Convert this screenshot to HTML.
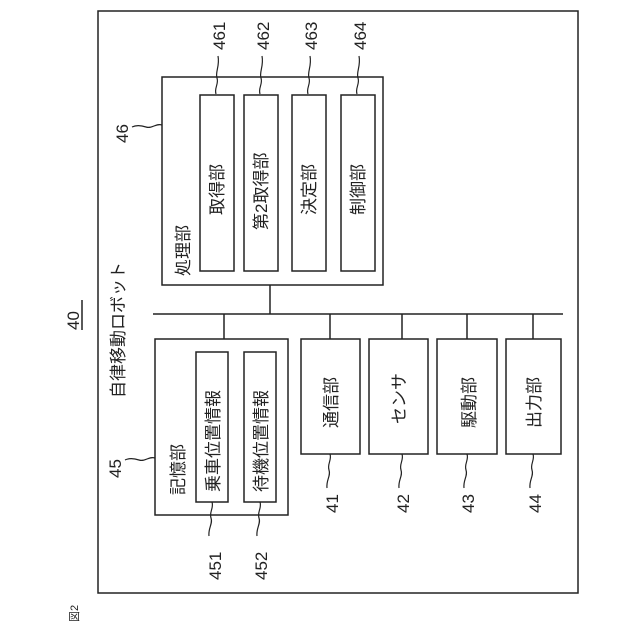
<!DOCTYPE html>
<html><head><meta charset="utf-8"><style>body{margin:0;background:#fff}svg{display:block}</style></head><body>
<svg width="640" height="640" viewBox="0 0 640 640" xmlns="http://www.w3.org/2000/svg" font-family="Liberation Sans, Noto Sans CJK JP, sans-serif" fill="none" stroke="#222" stroke-width="1.5">
<rect x="98" y="11" width="480" height="582"/>
<rect x="162" y="77" width="221" height="208"/>
<rect x="200" y="95" width="34" height="176"/>
<rect x="244" y="95" width="34" height="176"/>
<rect x="292" y="95" width="34" height="176"/>
<rect x="341" y="95" width="34" height="176"/>
<line x1="153" y1="314" x2="563" y2="314"/>
<line x1="270" y1="285" x2="270" y2="314"/>
<rect x="155" y="339" width="133" height="176"/>
<rect x="196" y="352" width="32" height="150"/>
<rect x="244" y="352" width="32" height="150"/>
<line x1="224" y1="314" x2="224" y2="339"/>
<rect x="301" y="339" width="59" height="115"/>
<rect x="369" y="339" width="59" height="115"/>
<rect x="437" y="339" width="60" height="115"/>
<rect x="506" y="339" width="55" height="115"/>
<line x1="330" y1="314" x2="330" y2="339"/>
<line x1="402" y1="314" x2="402" y2="339"/>
<line x1="467" y1="314" x2="467" y2="339"/>
<line x1="533" y1="314" x2="533" y2="339"/>
<g stroke-width="1.2">
<path d="M216 94 c-2 -6 3 -10 1 -16 c-2 -6 3 -12 1 -22"/>
<path d="M260 94 c-2 -6 3 -10 1 -16 c-2 -6 3 -12 1 -22"/>
<path d="M308 94 c-2 -6 3 -10 1 -16 c-2 -6 3 -12 1 -22"/>
<path d="M357 94 c-2 -6 3 -10 1 -16 c-2 -6 3 -12 1 -22"/>
<path d="M162 125 c-6 -2 -10 4 -16 2 c-6 -2 -10 -2 -14 0"/>
<path d="M155 458 c-6 -2 -10 4 -16 2 c-6 -2 -10 -2 -14 0"/>
<path d="M212 502 c2 6 -3 10 -1 16 c2 6 -3 10 -2 18"/>
<path d="M260 502 c2 6 -3 10 -1 16 c2 6 -3 10 -2 18"/>
<path d="M330 454 c2 6 -3 10 -1 16 c2 6 -3 10 -2 18"/>
<path d="M402 454 c2 6 -3 10 -1 16 c2 6 -3 10 -2 18"/>
<path d="M467 454 c2 6 -3 10 -1 16 c2 6 -3 10 -2 18"/>
<path d="M533 454 c2 6 -3 10 -1 16 c2 6 -3 10 -2 18"/>
</g>
<line x1="82" y1="300" x2="82" y2="330"/>
<g fill="#222" stroke="none" font-size="17">
<text transform="translate(225 50) rotate(-90)">461</text>
<text transform="translate(269 50) rotate(-90)">462</text>
<text transform="translate(317 50) rotate(-90)">463</text>
<text transform="translate(366 50) rotate(-90)">464</text>
<text transform="translate(128 143) rotate(-90)">46</text>
<text transform="translate(121 478) rotate(-90)">45</text>
<text transform="translate(221 580) rotate(-90)">451</text>
<text transform="translate(267 580) rotate(-90)">452</text>
<text transform="translate(338 513) rotate(-90)">41</text>
<text transform="translate(409 513) rotate(-90)">42</text>
<text transform="translate(474 513) rotate(-90)">43</text>
<text transform="translate(541 513) rotate(-90)">44</text>
<text transform="translate(79 330) rotate(-90)">40</text>
<text transform="translate(124 398) rotate(-90)">自律移動ロボット</text>
<text transform="translate(189 276) rotate(-90)">処理部</text>
<text transform="translate(223 215) rotate(-90)">取得部</text>
<text transform="translate(267 230) rotate(-90)">第2取得部</text>
<text transform="translate(315 215) rotate(-90)">決定部</text>
<text transform="translate(364 215) rotate(-90)">制御部</text>
<text transform="translate(184 495) rotate(-90)">記憶部</text>
<text transform="translate(219 492) rotate(-90)">乗車位置情報</text>
<text transform="translate(267 492) rotate(-90)">待機位置情報</text>
<text transform="translate(337 428) rotate(-90)">通信部</text>
<text transform="translate(405 424) rotate(-90)">センサ</text>
<text transform="translate(475 428) rotate(-90)">駆動部</text>
<text transform="translate(540 428) rotate(-90)">出力部</text>
<text font-size="11" transform="translate(78 622) rotate(-90)">図2</text>
</g>
</svg>
</body></html>
